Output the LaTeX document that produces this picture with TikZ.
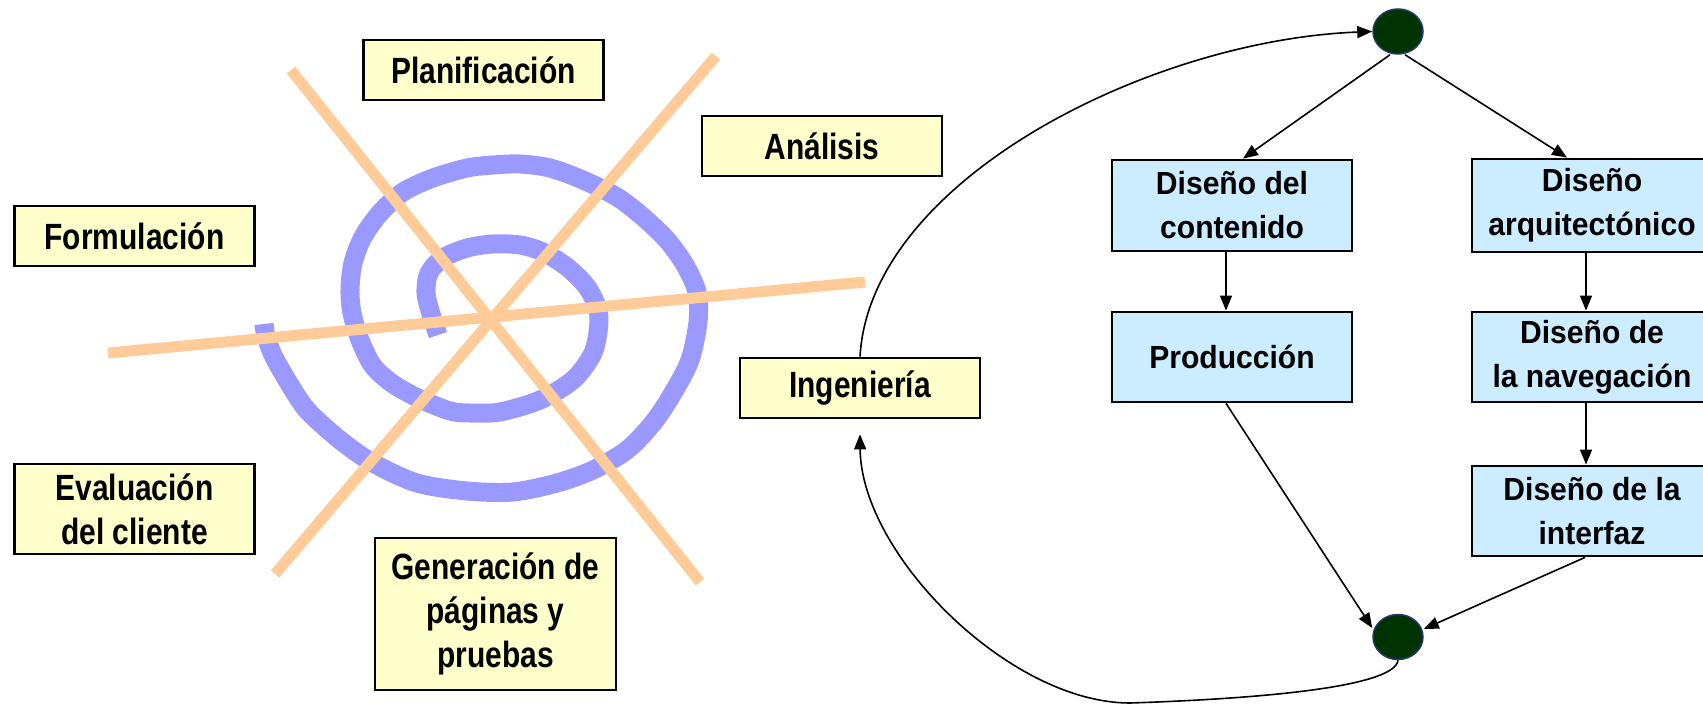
\documentclass[tikz,border=0pt]{standalone}
\usepackage{fontspec}
\newfontfamily\leftfont[FakeStretch=0.82]{Liberation Sans}
\newfontfamily\rightfont[FakeStretch=0.94]{Liberation Sans}
\usetikzlibrary{arrows.meta,shapes.geometric}
\definecolor{yel}{HTML}{FFFFCC}
\definecolor{blu}{HTML}{CCECFF}
\definecolor{spir}{HTML}{9999FF}
\definecolor{peach}{HTML}{FFCC99}
\definecolor{dkgreen}{HTML}{003300}
\definecolor{dkblue}{HTML}{1F3A6E}
\begin{document}
\begin{tikzpicture}[x=1pt,y=-1pt,
  ybox/.style={draw=black,line width=2.8pt,fill=yel,inner sep=0pt,align=center,
    minimum width=240pt,font=\leftfont\bfseries\fontsize{36.5}{44}\selectfont},
  bbox/.style={draw=black,line width=2.8pt,fill=blu,inner sep=0pt,align=center,
    minimum width=240pt,font=\rightfont\bfseries\fontsize{32}{44}\selectfont},
  dot/.style={ellipse,draw=dkblue,line width=1.5pt,fill=dkgreen,minimum width=50pt,
    minimum height=45pt,inner sep=0pt},
  conn/.style={line width=1.6pt,-{Triangle[length=15pt,width=12pt]}},
  spoke/.style={draw=peach,line width=11pt},
  spiralline/.style={draw=spir,line width=19pt,line join=round},
]
\useasboundingbox (0,0) rectangle (1703,706);

% spiral
\draw[spiralline] plot[smooth,tension=0.5] coordinates {
(438,335) (431,314) (426,293) (429,273) (443,258) (467,248) (493,244) (520,245)
(543,252) (567,267) (587,287) (598,310) (598,332) (592,355) (573,380) (540,400)
(500,412) (470,413) (450,411) (420,399) (393,384) (373,366) (360,340) (352,313)
(350,290) (353,263) (363,237) (380,213) (403,192) (433,178) (467,168) (493,165)
(520,164) (550,168) (583,180) (617,197) (643,217) (667,240) (685,265) (697,292)
(698,322) (690,360) (673,393) (653,423) (627,450) (593,470) (557,483) (513,492)
(467,491) (417,483) (373,463) (340,440) (307,410) (287,380) (273,355) (266,336) (264,324)};

% spokes
\coordinate (a1) at (291,70);  \coordinate (a2) at (700,582);
\coordinate (b1) at (716,56);  \coordinate (b2) at (275,574);
\coordinate (c1) at (108,353); \coordinate (c2) at (865,282);
\draw[spoke] (a1) -- (a2);
\draw[spoke] (b1) -- (b2);
\draw[spoke] (c1) -- (c2);

% yellow boxes
\node[ybox,minimum height=60pt] (plan) at (483.5,70) {Planificación};
\node[ybox,minimum height=60pt] (anal) at (822,146) {Análisis};
\node[ybox,minimum height=60pt] (form) at (134.5,236) {Formulación};
\node[ybox,minimum height=90pt] (eval) at (134.5,509) {Evaluación\\del cliente};
\node[ybox,minimum height=152pt,minimum width=241pt] (gen) at (495.5,614) {Generación de\\páginas y\\pruebas};
\node[ybox,minimum height=60pt] (ing) at (860,388) {Ingeniería};

% blue boxes
\node[bbox,minimum height=91pt] (cont) at (1232,205.5) {Diseño del\\contenido};
\node[bbox,minimum height=90pt] (prod) at (1232,357) {Producción};
\node[bbox,minimum height=93pt] (arq) at (1592,205.5) {Diseño\\arquitectónico};
\node[bbox,minimum height=90pt] (nav) at (1592,357) {Diseño de\\la navegación};
\node[bbox,minimum height=90pt] (intf) at (1592,511) {Diseño de la\\interfaz};

% dots
\node[dot] (top) at (1398,31.5) {};
\node[dot] (bot) at (1398,637) {};
\coordinate (lowmid) at (1130,703);

% connectors
\draw[conn] ([xshift=-8pt]top.south) -- ([xshift=11pt]cont.north);
\draw[conn] ([xshift=7pt]top.south) -- ([xshift=-25pt]arq.north);
\draw[conn] ([xshift=-6pt]cont.south) -- ([xshift=-6pt]prod.north);
\draw[conn] ([xshift=-6pt]arq.south) -- ([xshift=-6pt]nav.north);
\draw[conn] ([xshift=-6pt]nav.south) -- ([xshift=-6pt]intf.north);
\draw[conn] ([xshift=-6pt]prod.south) -- ([yshift=9pt]bot.west);
\draw[conn] ([xshift=-7pt]intf.south) -- ([yshift=8pt]bot.east);
\draw[conn] (ing.north) .. controls (870,180) and (1150,40) .. (top.west);
\draw[conn] (bot.south) .. controls (1395,685) and (1280,698) .. (lowmid)
  .. controls (1009,703) and (861,554) .. ([yshift=-15pt]ing.south);
\end{tikzpicture}
\end{document}
